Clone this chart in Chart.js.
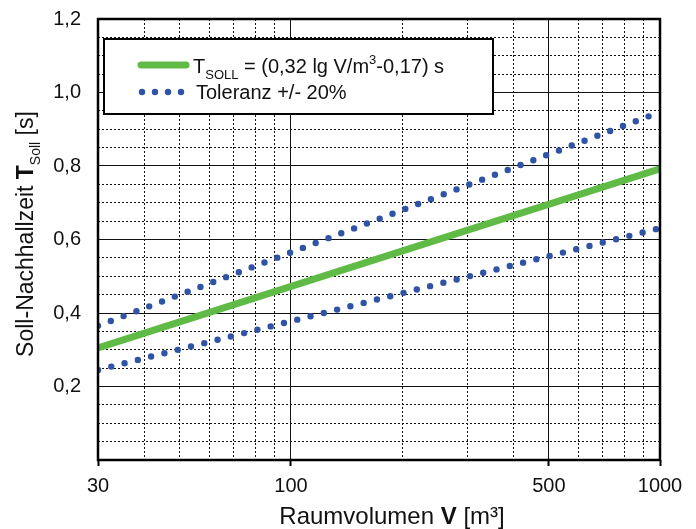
<!DOCTYPE html>
<html>
<head>
<meta charset="utf-8">
<script src="https://cdn.jsdelivr.net/npm/chart.js@4.4.0/dist/chart.umd.min.js"></script>
<style>
  html, body { margin: 0; padding: 0; background: #fff; }
</style>
</head>
<body>
<canvas id="graphique" width="696" height="529"></canvas>
<script>
// Raumvolumen (m³) an den Enden der Linien
var volumes = [30, 1000];
// Soll-Nachhallzeit und Toleranz (s)
var tSoll = [0.305, 0.792];
var tolOben = [0.365, 0.947];
var tolUnten = [0.245, 0.631];

// Achsen: beschriftete Ticks und Hilfsgitter
var xLabels = [30, 100, 500, 1000];
var xGrid = [30, 40, 50, 60, 70, 80, 90, 100, 200, 300, 400, 500, 600, 700, 800, 900, 1000];
var yLabels = [0.2, 0.4, 0.6, 0.8, 1.0, 1.2];
var yMin = 0, yMax = 1.2, yStep = 0.05;

var FONT = '"Liberation Sans", Arial, sans-serif';
var GREEN = '#5fba46';
var BLUE = '#2f53a5';

function pts(ys) {
  var out = [];
  for (var i = 0; i < volumes.length; i++) out.push({x: volumes[i], y: ys[i]});
  return out;
}

function isMajorY(v) {
  for (var i = 0; i < yLabels.length; i++) if (Math.abs(yLabels[i] - v) < 1e-6) return true;
  return false;
}

// text in several pieces (normal, bold, sub, sup)
function drawParts(ctx, parts, x, y) {
  var cx = x;
  parts.forEach(function(p) {
    ctx.font = p.font;
    ctx.fillText(p.t, cx, y + (p.dy || 0));
    cx += ctx.measureText(p.t).width;
  });
}
function partsWidth(ctx, parts) {
  var w = 0;
  parts.forEach(function(p) { ctx.font = p.font; w += ctx.measureText(p.t).width; });
  return w;
}

var extras = {
  id: 'extras',
  afterDraw: function(chart) {
    var ctx = chart.ctx;
    var a = chart.chartArea;
    ctx.save();
    // rahmen
    ctx.strokeStyle = '#000';
    ctx.lineWidth = 2.5;
    ctx.strokeRect(a.left, a.top, a.right - a.left, a.bottom - a.top);

    // legende
    ctx.fillStyle = '#fff';
    ctx.fillRect(104, 39, 389, 75);
    ctx.lineWidth = 2;
    ctx.strokeRect(104, 39, 389, 75);

    ctx.strokeStyle = GREEN;
    ctx.lineWidth = 7;
    ctx.lineCap = 'round';
    ctx.beginPath();
    ctx.moveTo(141, 65);
    ctx.lineTo(186, 65);
    ctx.stroke();

    ctx.fillStyle = BLUE;
    [142, 155, 168, 181].forEach(function(dx) {
      ctx.beginPath();
      ctx.arc(dx, 92, 3.2, 0, Math.PI * 2);
      ctx.fill();
    });

    ctx.fillStyle = '#111';
    ctx.textBaseline = 'alphabetic';
    ctx.textAlign = 'left';
    var f20 = '20px ' + FONT, f13 = '13px ' + FONT;
    drawParts(ctx, [
      {t: 'T', font: f20},
      {t: 'SOLL', font: f13, dy: 6},
      {t: ' = (0,32 lg V/m', font: f20},
      {t: '3', font: f13, dy: -9},
      {t: '-0,17) s', font: f20}
    ], 193, 73);
    drawParts(ctx, [{t: 'Toleranz +/- 20%', font: f20}], 196, 99);

    // x-achsentitel
    var f24 = '24px ' + FONT, b24 = 'bold 24px ' + FONT;
    var xt = [
      {t: 'Raumvolumen ', font: f24},
      {t: 'V', font: b24},
      {t: ' [m³]', font: f24}
    ];
    var w = partsWidth(ctx, xt);
    drawParts(ctx, xt, 392 - w / 2, 524);

    // y-achsentitel
    var f23 = '23px ' + FONT, b23 = 'bold 23px ' + FONT, s14 = '14px ' + FONT;
    var yt = [
      {t: 'Soll-Nachhallzeit ', font: f23},
      {t: 'T', font: b23},
      {t: 'Soll', font: s14, dy: 7},
      {t: ' [s]', font: f23}
    ];
    ctx.translate(33, 234);
    ctx.rotate(-Math.PI / 2);
    w = partsWidth(ctx, yt);
    drawParts(ctx, yt, -w / 2, 0);
    ctx.restore();
  }
};

var ctx = document.getElementById('graphique');

var myChart = new Chart(ctx, {
  type: 'line',
  data: {
    datasets: [{
      label: 'T_SOLL',
      data: pts(tSoll),
      borderColor: GREEN,
      borderWidth: 7,
      pointRadius: 0,
      clip: 0,
      order: 1
    }, {
      label: 'Toleranz +20%',
      data: pts(tolOben),
      borderColor: BLUE,
      borderWidth: 6.4,
      borderDash: [0, 13.7],
      borderCapStyle: 'round',
      pointRadius: 0,
      clip: 0,
      order: 2
    }, {
      label: 'Toleranz -20%',
      data: pts(tolUnten),
      borderColor: BLUE,
      borderWidth: 6.4,
      borderDash: [0, 13.7],
      borderCapStyle: 'round',
      pointRadius: 0,
      clip: 0,
      order: 2
    }]
  },
  options: {
    responsive: false,
    devicePixelRatio: 1,
    animation: false,
    layout: { padding: { top: 19, right: 36, left: 0, bottom: 0 } },
    plugins: { legend: { display: false }, tooltip: { enabled: false } },
    scales: {
      x: {
        type: 'logarithmic',
        min: 30,
        max: 1000,
        afterBuildTicks: function(scale) {
          scale.ticks = xGrid.map(function(v) { return {value: v}; });
        },
        afterFit: function(scale) {
          scale.height = 69;
          scale.paddingLeft = 0;
          scale.paddingRight = 0;
        },
        ticks: {
          autoSkip: false,
          maxRotation: 0,
          padding: 8,
          color: '#111',
          font: { family: FONT, size: 20 },
          callback: function(v) { return xLabels.indexOf(v) >= 0 ? String(v) : ''; }
        },
        grid: {
          color: '#111',
          lineWidth: 1,
          tickLength: 6,
          tickWidth: 2,
          tickColor: function(c) {
            return c.tick && xLabels.indexOf(c.tick.value) >= 0 ? '#000' : 'rgba(0,0,0,0)';
          }
        },
        border: {
          display: false,
          dash: function(c) {
            if (!c.tick) return [];
            return xLabels.indexOf(c.tick.value) >= 0 ? [] : [2, 2];
          }
        }
      },
      y: {
        type: 'linear',
        min: yMin,
        max: yMax,
        afterBuildTicks: function(scale) {
          var t = [];
          for (var i = 0; i <= Math.round((yMax - yMin) / yStep); i++) {
            t.push({value: +(yMin + i * yStep).toFixed(2)});
          }
          scale.ticks = t;
        },
        afterFit: function(scale) {
          scale.width = 98;
          scale.paddingTop = 0;
          scale.paddingBottom = 0;
        },
        ticks: {
          autoSkip: false,
          padding: 17,
          color: '#111',
          font: { family: FONT, size: 20 },
          callback: function(v) {
            return isMajorY(v) ? v.toFixed(1).replace('.', ',') : '';
          }
        },
        grid: {
          color: '#111',
          lineWidth: 1,
          drawTicks: false
        },
        border: {
          display: false,
          dash: function(c) {
            if (!c.tick) return [];
            return isMajorY(c.tick.value) ? [] : [2, 2];
          }
        }
      }
    }
  },
  plugins: [extras]
});
</script>
</body>
</html>
